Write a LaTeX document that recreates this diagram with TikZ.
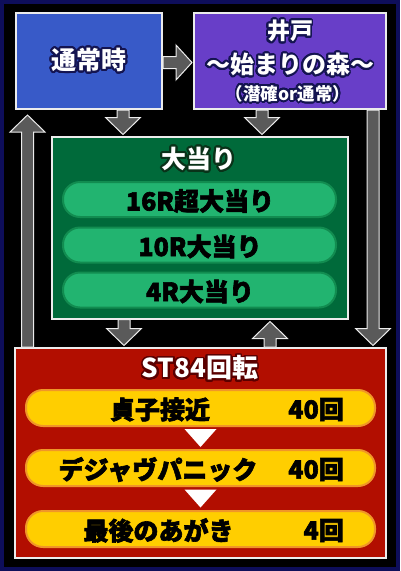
\documentclass[tikz,border=0pt]{standalone}
\usepackage{fontspec}
\setmainfont{Noto Sans CJK JP}
\newfontfamily\heavyjp{Noto Sans CJK JP}[BoldFeatures={FakeBold=2.5}]
\usepackage[copies]{contour}
\usetikzlibrary{calc}
\definecolor{navyframe}{RGB}{14,14,90}
\definecolor{bluebox}{RGB}{56,90,200}
\definecolor{purplebox}{RGB}{104,62,200}
\definecolor{greenbox}{RGB}{0,106,58}
\definecolor{greenpill}{RGB}{34,180,112}
\definecolor{greenrim}{RGB}{18,140,80}
\definecolor{redbox}{RGB}{178,14,0}
\definecolor{yellowpill}{RGB}{255,206,0}
\definecolor{yellowrim}{RGB}{240,150,40}
\definecolor{arrowgray}{RGB}{90,90,90}
\definecolor{boxedge}{RGB}{236,236,236}
\definecolor{outblue}{RGB}{20,20,80}
\definecolor{outgreen}{RGB}{10,50,25}
\definecolor{outred}{RGB}{90,0,0}
\contourlength{1.8pt}
\contournumber{32}
\newcommand\downarr[2]{\filldraw[barr] ($(#1)+(-6,0)$) -- ($(#2)+(-6,-17)$) -- ($(#2)+(-17.5,-17)$) -- (#2) -- ($(#2)+(17.5,-17)$) -- ($(#2)+(6,-17)$) -- ($(#1)+(6,0)$) -- cycle;}
\newcommand\uparr[2]{\filldraw[barr] ($(#1)+(-6,0)$) -- ($(#2)+(-6,17)$) -- ($(#2)+(-17.5,17)$) -- (#2) -- ($(#2)+(17.5,17)$) -- ($(#2)+(6,17)$) -- ($(#1)+(6,0)$) -- cycle;}
\newcommand\rightarr[2]{\filldraw[barr] ($(#1)+(0,-6)$) -- ($(#2)+(-16,-6)$) -- ($(#2)+(-16,-17.5)$) -- (#2) -- ($(#2)+(-16,17.5)$) -- ($(#2)+(-16,6)$) -- ($(#1)+(0,6)$) -- cycle;}
\begin{document}
\begin{tikzpicture}[x=1pt,y=-1pt,
  box/.style={draw=boxedge, line width=2pt, inner sep=0pt},
  gpill/.style={draw=greenrim, fill=greenpill, line width=2pt, rounded corners=17pt, minimum width=273pt, minimum height=35pt, inner sep=0pt},
  ypill/.style={draw=yellowrim, fill=yellowpill, line width=2pt, rounded corners=17pt, minimum width=349pt, minimum height=36pt, inner sep=0pt},
  barr/.style={fill=arrowgray, draw=boxedge, line width=1pt, line join=miter},
  pilltxt/.style={text=black, font=\heavyjp\bfseries\fontsize{25}{28}\selectfont, inner sep=0pt},
  ttl/.style={inner sep=0pt, font=\bfseries\fontsize{23}{26}\selectfont}
]
\useasboundingbox (0,0) rectangle (400,571);
\fill[navyframe] (0,0) rectangle (400,571);
\fill[black] (4,4) rectangle (396,567);

% boxes
\node[box, fill=bluebox, minimum width=146pt, minimum height=96pt] (blue) at (89,61) {};
\node[box, fill=purplebox, minimum width=192pt, minimum height=96pt] (purple) at (290,61) {};
\node[box, fill=greenbox, minimum width=296pt, minimum height=182pt] (green) at (200,227.5) {};
\node[box, fill=redbox, minimum width=371pt, minimum height=210pt] (red) at (200.5,453) {};

% connectors (block arrows)
\coordinate (a1s) at ($(blue.south)+(34,0)$);
\coordinate (a1e) at ($(a1s |- green.north)+(0,-1)$);
\downarr{a1s}{a1e}
\coordinate (a2s) at ($(purple.south)+(-28,0)$);
\coordinate (a2e) at ($(a2s |- green.north)+(0,-1)$);
\downarr{a2s}{a2e}
\coordinate (a3s) at ($(blue.east)+(0,1.5)$);
\coordinate (a3e) at ($(a3s -| purple.west)+(-1,0)$);
\rightarr{a3s}{a3e}
\coordinate (a4s) at ($(green.south)+(-76,0)$);
\coordinate (a4e) at ($(a4s |- red.north)+(0,-1.5)$);
\downarr{a4s}{a4e}
\coordinate (a5s) at ($(red.north)+(69.5,0)$);
\coordinate (a5e) at ($(a5s |- green.south)+(0,2)$);
\uparr{a5s}{a5e}
\coordinate (a6s) at ($(red.north west)+(13.5,0)$);
\coordinate (a6e) at (27.5,115);
\uparr{a6s}{a6e}
\coordinate (a7s) at ($(purple.south east)+(-14,0)$);
\coordinate (a7e) at ($(a7s |- red.north)+(0,-1.5)$);
\downarr{a7s}{a7e}

% top texts
\node[ttl, font=\bfseries\fontsize{25}{28}\selectfont] (tblue) at (89,61) {\contour{outblue}{\textcolor{white}{通常時}}};
\node[ttl] (tido) at (290,32) {\contour{outblue}{\textcolor{white}{井戸}}};
\node[ttl, font=\bfseries\fontsize{24}{28}\selectfont] (tmori) at (290,65.5) {\contour{outblue}{\textcolor{white}{〜始まりの森〜}}};
\node[ttl, font=\bfseries\fontsize{17.5}{20}\selectfont] (tsen) at (288,94.5) {\contour{outblue}{\textcolor{white}{（潜確or通常）}}};

% green
\node[ttl, font=\bfseries\fontsize{25}{28}\selectfont] (tgreen) at (199,160) {\contour{outgreen}{\textcolor{white}{大当り}}};
\node[gpill] (g1) at (199.5,199.5) {};
\node[gpill] (g2) at (199.5,245) {};
\node[gpill] (g3) at (199.5,290) {};
\node[pilltxt] (tg1) at (200,201) {16R超大当り};
\node[pilltxt] (tg2) at (200,246.5) {10R大当り};
\node[pilltxt] (tg3) at (200,291.5) {4R大当り};

% red
\node[ttl, font=\bfseries\fontsize{26}{29}\selectfont] (tred) at (200,369) {\contour{outred}{\textcolor{white}{ST84回転}}};
\node[ypill] (y1) at (200.5,408) {};
\node[ypill] (y2) at (200.5,468) {};
\node[ypill] (y3) at (200.5,529) {};
\node[pilltxt] (ty1l) at (160,409.5) {貞子接近};
\node[pilltxt, anchor=east] (ty1r) at (344,409.5) {40回};
\node[pilltxt] (ty2l) at (158,469.5) {デジャヴパニック};
\node[pilltxt, anchor=east] (ty2r) at (344,469.5) {40回};
\node[pilltxt] (ty3l) at (158.5,530.5) {最後のあがき};
\node[pilltxt, anchor=east] (ty3r) at (344,530.5) {4回};

\coordinate (m1) at ($(y1.south)!0.5!(y2.north)$);
\fill[white] ($(m1)+(-16,-9)$) -- ($(m1)+(16,-9)$) -- ($(m1)+(0,9)$) -- cycle;
\coordinate (m2) at ($(y2.south)!0.5!(y3.north)$);
\fill[white] ($(m2)+(-16,-9)$) -- ($(m2)+(16,-9)$) -- ($(m2)+(0,9)$) -- cycle;
\end{tikzpicture}
\end{document}
